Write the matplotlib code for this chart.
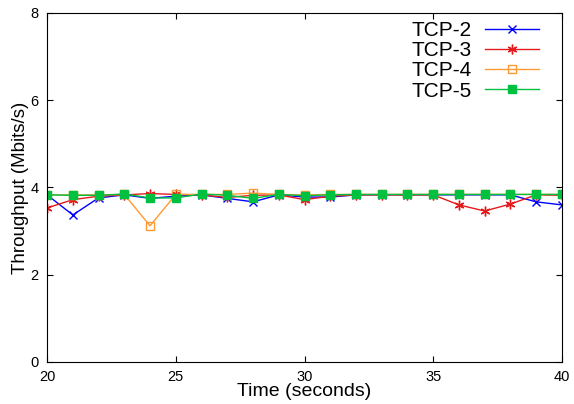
import matplotlib
matplotlib.use("Agg")
import matplotlib.pyplot as plt

plt.rcParams['font.family'] = ['Liberation Sans', 'DejaVu Sans']

time_s = list(range(20, 41))
tcp2 = [3.83, 3.37, 3.76, 3.83, 3.75, 3.80, 3.83, 3.75, 3.67, 3.83, 3.78,
        3.78, 3.83, 3.83, 3.83, 3.83, 3.83, 3.83, 3.83, 3.67, 3.60]
tcp3 = [3.53, 3.72, 3.80, 3.83, 3.86, 3.84, 3.83, 3.77, 3.82, 3.83, 3.72,
        3.80, 3.83, 3.83, 3.83, 3.83, 3.60, 3.46, 3.62, 3.83, 3.82]
tcp4 = [3.83, 3.83, 3.83, 3.84, 3.12, 3.84, 3.84, 3.84, 3.87, 3.84, 3.83,
        3.84, 3.84, 3.84, 3.84, 3.84, 3.84, 3.84, 3.84, 3.84, 3.84]
tcp5 = [3.83, 3.82, 3.82, 3.85, 3.76, 3.76, 3.85, 3.82, 3.75, 3.84, 3.81,
        3.83, 3.84, 3.84, 3.84, 3.84, 3.84, 3.84, 3.84, 3.84, 3.84]

fig = plt.figure(figsize=(5.74, 4.04), dpi=100)
ax = fig.add_axes([0.082, 0.104, 0.897, 0.864])

ax.plot(time_s, tcp2, color="#0000ff", lw=1, marker="x", ms=6, mew=1, label="TCP-2")
ax.plot(time_s, tcp3, color="#e41a1c", lw=1, marker=(6, 2, 0), ms=7, mew=1, label="TCP-3")
ax.plot(time_s, tcp4, color="#ff9933", lw=1, marker="s", ms=6, mfc="none", mew=1, label="TCP-4")
ax.plot(time_s, tcp5, color="#00c040", lw=1, marker="s", ms=6, label="TCP-5")

ax.set_xlim(20, 40)
ax.set_ylim(0, 8)
ax.set_xticks([20, 25, 30, 35, 40])
ax.set_yticks([0, 2, 4, 6, 8])
ax.tick_params(direction="in", top=True, right=True, labelsize=10.5, length=4, pad=6)
ax.set_xlabel("Time (seconds)", fontsize=14, labelpad=-1)
ax.set_ylabel("Throughput (Mbits/s)", fontsize=13.5, labelpad=1)

ax.legend(loc="upper right", frameon=False, markerfirst=False, fontsize=15,
          handlelength=2.6, handletextpad=0.62, labelspacing=0.06,
          borderpad=0.0, borderaxespad=0.0, bbox_to_anchor=(0.955, 0.977))

fig.savefig("out.png", dpi=100)
